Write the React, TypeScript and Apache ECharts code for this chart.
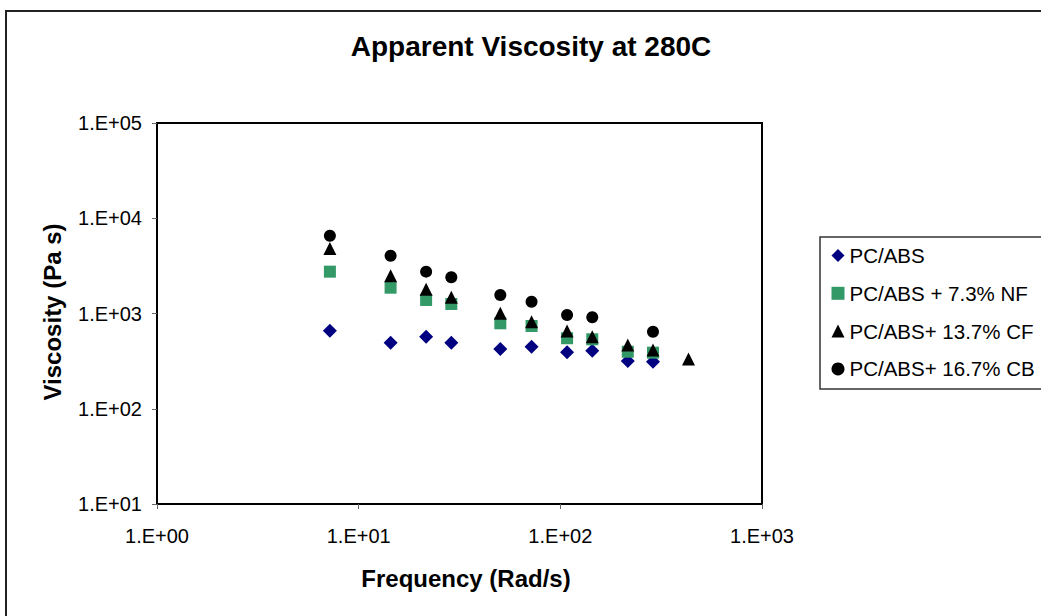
import React, { useEffect, useRef } from "react";
import * as echarts from "echarts";

const titleText = "Apparent Viscosity at 280C";
const xName = "Frequency (Rad/s)";
const yName = "Viscosity (Pa s)";

const frequency = [7.2, 14.4, 21.6, 28.8, 50.4, 72, 108, 144, 216, 288, 432];
const seriesNames = ["PC/ABS", "PC/ABS + 7.3% NF", "PC/ABS+ 13.7% CF", "PC/ABS+ 16.7% CB"];
const pcAbs = [660, 492, 570, 492, 424, 448, 392, 407, 317, 312, null];
const nf73 = [2750, 1866, 1387, 1259, 789, 739, 550, 536, 397, 388, null];
const cf137 = [4810, 2494, 1796, 1479, 1005, 820, 655, 570, 467, 414, 333];
const cb167 = [6560, 4045, 2750, 2400, 1563, 1330, 964, 912, null, 644, null];

const FONT = '"Liberation Sans", Arial, sans-serif';

const toPairs = (vals: (number | null)[]) =>
  frequency
    .map((f, i) => (vals[i] == null ? null : [f, vals[i]]))
    .filter((p) => p !== null) as number[][];

const expLabel = (v: number) => {
  const e = Math.round(Math.log10(v));
  return "1.E+" + String(e).padStart(2, "0");
};

export default function App() {
  const ref = useRef<HTMLDivElement>(null);
  useEffect(() => {
    if (!ref.current) return;
    const chart = echarts.init(ref.current, null, { renderer: "svg" });
    const axisCommon = {
      type: "log" as const,
      logBase: 10,
      axisLine: { show: true, onZero: false, lineStyle: { color: "#000", width: 2 } },
      axisTick: { show: true, inside: false, length: 5, lineStyle: { color: "#666", width: 1 } },
      splitLine: { show: false },
      minorTick: { show: false },
      minorSplitLine: { show: false },
    };
    chart.setOption({
      animation: false,
      backgroundColor: "#fff",
      textStyle: { fontFamily: FONT },
      grid: {
        left: 157,
        top: 123,
        width: 605,
        height: 381,
        show: true,
        borderColor: "#000",
        borderWidth: 2,
        backgroundColor: "transparent",
      },
      xAxis: {
        ...axisCommon,
        min: 1,
        max: 1000,
        axisLabel: {
          formatter: expLabel,
          fontSize: 20,
          color: "#000",
          fontFamily: FONT,
          margin: 22,
        },
      },
      yAxis: {
        ...axisCommon,
        min: 10,
        max: 100000,
        axisLabel: {
          formatter: expLabel,
          fontSize: 20,
          color: "#000",
          fontFamily: FONT,
          margin: 15,
        },
      },
      legend: {
        orient: "vertical",
        left: 826.5,
        top: 240,
        itemWidth: 13,
        itemHeight: 13,
        itemGap: 16.8,
        symbolKeepAspect: true,
        textStyle: {
          fontSize: 20.5,
          color: "#000",
          fontFamily: FONT,
          lineHeight: 20,
        },
        data: seriesNames,
      },
      series: [
        {
          name: seriesNames[0],
          type: "scatter",
          symbol: "diamond",
          symbolSize: 14,
          itemStyle: { color: "#000080", opacity: 1 },
          data: toPairs(pcAbs),
        },
        {
          name: seriesNames[1],
          type: "scatter",
          symbol: "rect",
          symbolSize: 12,
          itemStyle: { color: "#339966", opacity: 1 },
          data: toPairs(nf73),
        },
        {
          name: seriesNames[2],
          type: "scatter",
          symbol: "triangle",
          symbolSize: 13,
          itemStyle: { color: "#000", opacity: 1 },
          data: toPairs(cf137),
        },
        {
          name: seriesNames[3],
          type: "scatter",
          symbol: "circle",
          symbolSize: 12,
          itemStyle: { color: "#000", opacity: 1 },
          data: toPairs(cb167),
        },
      ],
      graphic: [
        {
          type: "rect",
          silent: true,
          shape: { x: 6, y: 11, width: 1200, height: 800 },
          style: { fill: "none", stroke: "#222", lineWidth: 2 },
        },
        {
          type: "rect",
          silent: true,
          shape: { x: 820, y: 237, width: 300, height: 152 },
          style: { fill: "none", stroke: "#333", lineWidth: 1.5 },
        },
        {
          type: "text",
          x: 531,
          y: 46,
          style: {
            text: titleText,
            font: "bold 28px " + FONT,
            fill: "#000",
            align: "center",
            verticalAlign: "middle",
            textAlign: "center",
            textVerticalAlign: "middle",
          },
        },
        {
          type: "text",
          x: 466,
          y: 578,
          style: {
            text: xName,
            font: "bold 24px " + FONT,
            fill: "#000",
            align: "center",
            verticalAlign: "middle",
            textAlign: "center",
            textVerticalAlign: "middle",
          },
        },
        {
          type: "text",
          x: 52,
          y: 312,
          rotation: Math.PI / 2,
          style: {
            text: yName,
            font: "bold 24px " + FONT,
            fill: "#000",
            align: "center",
            verticalAlign: "middle",
            textAlign: "center",
            textVerticalAlign: "middle",
          },
        },
      ],
    });
    return () => chart.dispose();
  }, []);
  return (
    <div
      ref={ref}
      style={{ position: "fixed", left: 0, top: 0, width: 1041, height: 616, background: "#fff" }}
    />
  );
}
